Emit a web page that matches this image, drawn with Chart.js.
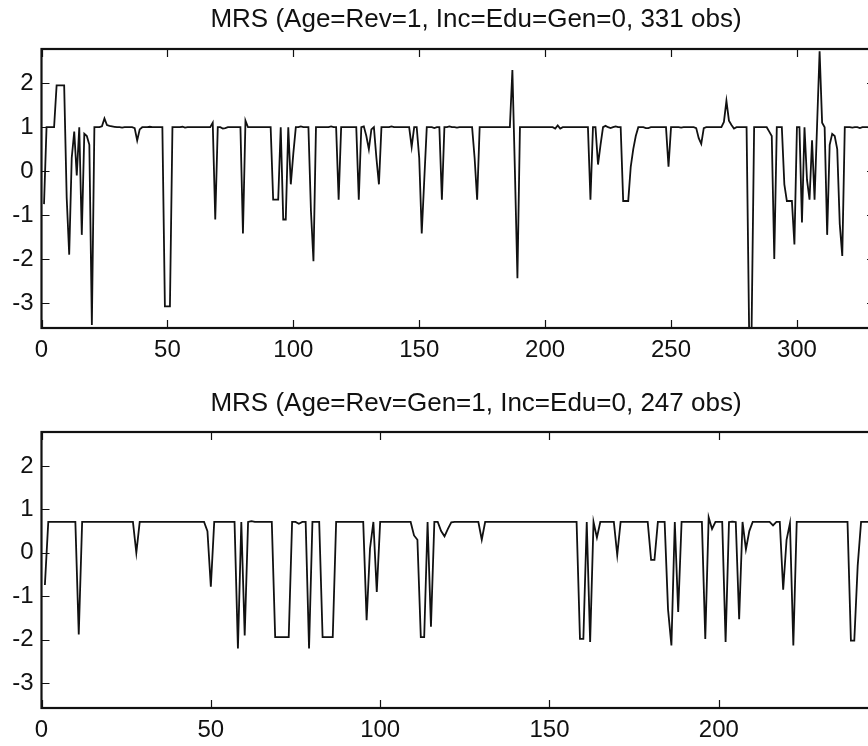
<!DOCTYPE html>
<html>
<head>
<meta charset="utf-8">
<script src="https://cdn.jsdelivr.net/npm/chart.js@4/dist/chart.umd.min.js"></script>
<style>
  html, body { margin:0; padding:0; background:#fff; width:868px; height:746px; overflow:hidden; }
  .wrap { position:absolute; left:0; }
</style>
</head>
<body>
<div class="wrap" id="w1" style="top:0px"><canvas id="c1" width="952" height="380"></canvas></div>
<div class="wrap" id="w2" style="top:383px"><canvas id="c2" width="952" height="383"></canvas></div>
<script>
// ---- data ----
const title1 = "MRS (Age=Rev=1, Inc=Edu=Gen=0, 331 obs)";
const title2 = "MRS (Age=Rev=Gen=1, Inc=Edu=0, 247 obs)";

const mrs1 = [
 -0.75, 1.0, 1.0, 1.0, 1.0, 1.95, 1.95, 1.95, 1.95, -0.6,
 -1.9, 0.3, 0.9, -0.1, 1.0, -1.45, 0.85, 0.8, 0.6, -3.5,
 1.0, 1.0, 1.0, 1.02, 1.2, 1.05, 1.03, 1.02, 1.01, 1.0,
 1.0, 0.99, 1.0, 1.0, 1.0, 1.0, 0.98, 0.7, 0.95, 1.0,
 1.0, 1.0, 1.01, 1.0, 1.0, 1.0, 1.0, 1.0, -3.08, -3.08,
 -3.08, 1.0, 1.0, 1.0, 1.0, 1.01, 0.99, 1.0, 1.0, 1.0,
 1.0, 1.0, 1.0, 1.0, 1.0, 1.0, 1.0, 1.1, -1.1, 1.0,
 1.0, 0.97, 0.98, 1.0, 1.0, 1.0, 1.0, 1.0, 1.0, -1.42,
 1.15, 1.0, 1.0, 1.0, 1.0, 1.0, 1.0, 1.0, 1.0, 1.0,
 1.0, -0.65, -0.65, -0.65, 1.0, -1.1, -1.1, 1.0, -0.3, 0.4,
 1.0, 1.0, 1.02, 1.0, 1.0, 1.0, -0.9, -2.05, 1.0, 1.0,
 1.0, 1.0, 1.0, 1.0, 1.02, 1.0, 1.0, -0.65, 1.0, 1.0,
 1.0, 1.0, 1.0, 1.0, 1.0, -0.65, 1.0, 1.02, 0.8, 0.5,
 0.95, 1.0, 0.3, -0.3, 1.0, 1.0, 1.0, 1.0, 1.02, 1.0,
 1.0, 1.0, 1.0, 1.0, 1.0, 1.0, 0.55, 1.0, 1.0, 0.3,
 -1.42, -0.2, 1.0, 1.0, 1.0, 0.98, 1.0, 1.0, -0.65, 1.0,
 1.0, 1.02, 1.0, 1.0, 0.99, 1.0, 1.0, 1.0, 1.0, 1.0,
 1.0, 0.3, -0.65, 1.0, 1.0, 1.0, 1.0, 1.0, 1.0, 1.0,
 1.0, 1.0, 1.0, 1.0, 1.0, 1.0, 2.3, 0.0, -2.44, 1.0,
 1.0, 1.0, 1.0, 1.0, 1.0, 1.0, 1.0, 1.0, 1.0, 1.0,
 1.0, 1.0, 1.0, 0.97, 1.04, 0.97, 1.0, 1.0, 1.0, 1.0,
 1.0, 1.0, 1.0, 1.0, 1.0, 1.0, 1.0, -0.65, 1.0, 1.0,
 0.15, 0.6, 1.0, 1.03, 1.0, 0.98, 1.0, 1.02, 1.0, 1.0,
 -0.68, -0.68, -0.68, 0.1, 0.5, 0.8, 1.0, 1.0, 1.0, 0.98,
 0.98, 1.0, 1.0, 1.0, 1.0, 1.0, 1.0, 1.0, 0.1, 1.0,
 1.0, 1.0, 1.0, 0.99, 1.0, 1.0, 1.0, 1.0, 1.0, 0.98,
 0.75, 0.62, 0.98, 1.0, 1.0, 1.0, 1.0, 1.0, 1.0, 1.0,
 1.12, 1.6, 1.15, 1.05, 0.97, 1.0, 1.0, 1.0, 1.0, 1.0,
 -3.57, -3.57, 1.0, 1.0, 1.0, 1.0, 1.0, 1.0, 0.9, 0.8,
 -2.0, 1.0, 1.0, 1.0, -0.3, -0.68, -0.68, -0.68, -1.67, 1.0,
 1.0, -1.17, 1.0, -0.2, -0.65, 0.7, -0.65, 1.05, 2.73, 1.1,
 1.0, -1.45, 0.6, 0.85, 0.8, 0.5, -1.2, -1.93, 1.0, 1.0,
 1.0, 0.99, 1.0, 1.0, 0.98, 1.0, 1.0, 1.0, 0.99, 1.0, 1.0
];

const mrs2 = [
 -0.74, 0.71, 0.71, 0.71, 0.71, 0.71, 0.71, 0.71, 0.71, 0.71,
 -1.88, 0.71, 0.71, 0.71, 0.71, 0.71, 0.71, 0.71, 0.71, 0.71,
 0.71, 0.71, 0.71, 0.71, 0.71, 0.71, 0.71, 0.0, 0.71, 0.71,
 0.71, 0.71, 0.71, 0.71, 0.71, 0.71, 0.71, 0.71, 0.71, 0.71,
 0.71, 0.71, 0.71, 0.71, 0.71, 0.71, 0.71, 0.71, 0.5, -0.78,
 0.71, 0.71, 0.71, 0.71, 0.71, 0.71, 0.71, -2.2, 0.71, -1.9,
 0.71, 0.73, 0.71, 0.71, 0.71, 0.71, 0.71, 0.71, -1.94, -1.94,
 -1.94, -1.94, -1.94, 0.71, 0.71, 0.67, 0.71, 0.71, -2.2, 0.71,
 0.71, 0.71, -1.94, -1.94, -1.94, -1.94, 0.71, 0.71, 0.71, 0.71,
 0.71, 0.71, 0.71, 0.71, 0.71, -1.55, 0.1, 0.71, -0.9, 0.71,
 0.71, 0.71, 0.71, 0.71, 0.71, 0.71, 0.71, 0.71, 0.71, 0.4,
 0.3, -1.94, -1.94, 0.71, -1.7, 0.71, 0.71, 0.5, 0.38, 0.55,
 0.7, 0.71, 0.71, 0.71, 0.71, 0.71, 0.71, 0.71, 0.71, 0.3,
 0.71, 0.71, 0.71, 0.71, 0.71, 0.71, 0.71, 0.71, 0.71, 0.71,
 0.71, 0.71, 0.71, 0.71, 0.71, 0.71, 0.71, 0.71, 0.71, 0.71,
 0.71, 0.71, 0.71, 0.71, 0.71, 0.71, 0.71, 0.71, -1.98, -1.98,
 0.71, -2.05, 0.71, 0.35, 0.71, 0.71, 0.71, 0.71, 0.71, -0.05,
 0.71, 0.71, 0.71, 0.71, 0.71, 0.71, 0.71, 0.71, 0.71, -0.16,
 -0.16, 0.71, 0.71, 0.71, -1.3, -2.13, 0.71, -1.36, 0.71, 0.71,
 0.71, 0.71, 0.71, 0.71, 0.71, -1.98, 0.82, 0.55, 0.71, 0.71,
 0.71, -2.05, 0.71, 0.72, 0.71, -1.53, 0.71, 0.08, 0.5, 0.71,
 0.71, 0.71, 0.71, 0.71, 0.71, 0.63, 0.71, 0.71, -0.85, 0.3,
 0.68, -2.13, 0.71, 0.71, 0.71, 0.71, 0.71, 0.71, 0.71, 0.71,
 0.71, 0.71, 0.71, 0.71, 0.71, 0.71, 0.71, 0.71, -2.02, -2.02,
 -0.3, 0.71, 0.71, 0.71, 0.71, 0.71, 0.71
];

const xTicks1 = [0, 50, 100, 150, 200, 250, 300];
const xTicks2 = [0, 50, 100, 150, 200];
const yTicks = [-3, -2, -1, 0, 1, 2];
const yMin = -3.57, yMax = 2.78;

// ---- drawing ----
const FONT = "'Liberation Sans', Arial, Helvetica, sans-serif";
const INK = '#111';

const framePlugin = {
  id: 'frame',
  afterDatasetsDraw(chart) {
    const {ctx, chartArea: a, scales} = chart;
    const x = scales.x, y = scales.y;
    const TL = 8;
    ctx.save();
    ctx.strokeStyle = INK;
    ctx.lineWidth = 1.2;
    ctx.beginPath();
    x.ticks.forEach(t => {
      const px = Math.round(x.getPixelForValue(t.value)) + 0.5;
      ctx.moveTo(px, a.bottom); ctx.lineTo(px, a.bottom - TL);
      ctx.moveTo(px, a.top); ctx.lineTo(px, a.top + TL);
    });
    y.ticks.forEach(t => {
      const py = Math.round(y.getPixelForValue(t.value)) + 0.5;
      ctx.moveTo(a.left, py); ctx.lineTo(a.left + TL, py);
      ctx.moveTo(a.right, py); ctx.lineTo(a.right - TL, py);
    });
    ctx.stroke();
    ctx.lineWidth = 2.2;
    ctx.strokeRect(a.left, a.top, a.right - a.left, a.bottom - a.top);
    ctx.restore();
  }
};

function makeChart(id, values, title, xTicks, geo) {
  const pts = values.map((v, i) => ({x: i + 1, y: v}));
  return new Chart(document.getElementById(id), {
    type: 'line',
    data: { datasets: [{
      data: pts, borderColor: INK, borderWidth: 1.8, pointRadius: 0,
      tension: 0, fill: false, spanGaps: true
    }]},
    options: {
      responsive: false, animation: false, devicePixelRatio: 1,
      layout: { padding: 0 },
      plugins: {
        legend: { display: false }, tooltip: { enabled: false },
        title: { display: true, text: title, color: INK,
          font: { family: FONT, size: 26, weight: 'normal' },
          padding: { top: geo.tTop, bottom: geo.tBottom } }
      },
      scales: {
        x: {
          type: 'linear', min: 0, max: values.length,
          afterBuildTicks: s => { s.ticks = xTicks.map(v => ({value: v})); },
          afterFit: s => { s.height = geo.xH; },
          grid: { display: false, drawTicks: false }, border: { display: false },
          ticks: { color: INK, font: { family: FONT, size: 24 }, padding: 8,
                   maxRotation: 0, autoSkip: false }
        },
        y: {
          type: 'linear', min: yMin, max: yMax,
          afterBuildTicks: s => { s.ticks = yTicks.map(v => ({value: v})); },
          afterFit: s => { s.width = 41.5; },
          grid: { display: false, drawTicks: false }, border: { display: false },
          ticks: { color: INK, font: { family: FONT, size: 24 }, padding: 8 }
        },
        y2: {
          type: 'linear', position: 'right', display: true,
          afterFit: s => { s.width = geo.rW; },
          grid: { display: false, drawTicks: false }, border: { display: false },
          ticks: { display: false }
        }
      }
    },
    plugins: [framePlugin]
  });
}

makeChart('c1', mrs1, title1, xTicks1, { tTop: 4.4, tBottom: 13.4, xH: 52, rW: 77 });
makeChart('c2', mrs2, title2, xTicks2, { tTop: 5.4, tBottom: 12.4, xH: 58, rW: 74 });
</script>
</body>
</html>
